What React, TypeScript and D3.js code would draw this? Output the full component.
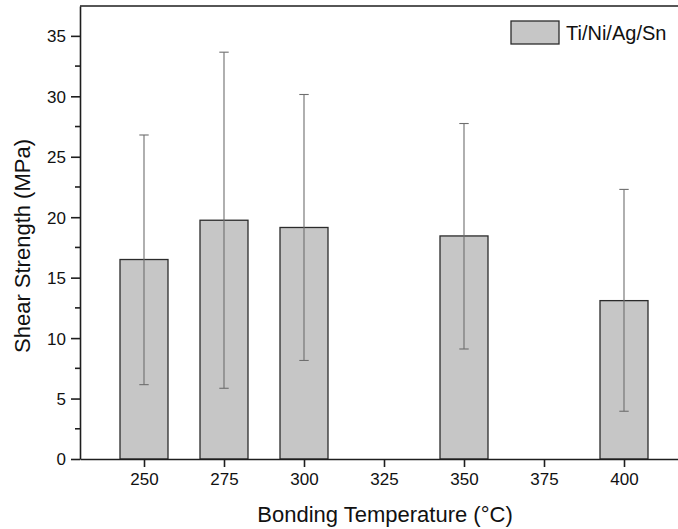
import React, { useRef, useEffect } from 'react';
import * as d3 from 'd3';

// Bonding temperature (°C) and measured shear strength (MPa)
const temps = [250, 275, 300, 350, 400];
const strength = [16.5, 19.75, 19.15, 18.45, 13.1];
const errHigh = [26.8, 33.65, 30.15, 27.75, 22.3];
const errLow = [6.15, 5.85, 8.15, 9.1, 3.95];
const xTicks = [250, 275, 300, 325, 350, 375, 400];
const yTicks = [0, 5, 10, 15, 20, 25, 30, 35];
const yMinorTicks = [2.5, 7.5, 12.5, 17.5, 22.5, 27.5, 32.5];
const seriesName = 'Ti/Ni/Ag/Sn';

const App = () => {
  const svgRef = useRef<SVGSVGElement>(null);

  useEffect(() => {
    const width = 678;
    const height = 529;
    const margin = { top: 6, left: 80, bottom: 70 };
    const font = 'Arial, "Liberation Sans", sans-serif';

    const svg = d3.select(svgRef.current)
      .attr('width', width)
      .attr('height', height)
      .style('display', 'block')
      .style('position', 'absolute')
      .style('left', '0px')
      .style('top', '0px');

    svg.selectAll('*').remove();

    const x = d3.scaleLinear().domain([230, 420]).range([margin.left, margin.left + 190 * 3.2]);
    const y = d3.scaleLinear().domain([0, 37.47]).range([height - margin.bottom, margin.top]);

    const barW = x(257.5) - x(242.5);
    const rows = temps.map((t, i) => ({ t, v: strength[i], hi: errHigh[i], lo: errLow[i] }));

    // bars
    svg.selectAll('.bar')
      .data(rows)
      .enter()
      .append('rect')
      .attr('class', 'bar')
      .attr('x', d => x(d.t) - barW / 2)
      .attr('y', d => y(d.v))
      .attr('width', barW)
      .attr('height', d => y(0) - y(d.v))
      .attr('fill', '#c6c6c6')
      .attr('stroke', '#2b2b2b')
      .attr('stroke-width', 1.3);

    // error bars
    const eb = svg.selectAll('.err')
      .data(rows)
      .enter()
      .append('g')
      .attr('class', 'err')
      .attr('stroke', '#6e6e6e')
      .attr('stroke-width', 1.1);
    eb.append('line')
      .attr('x1', d => x(d.t)).attr('x2', d => x(d.t))
      .attr('y1', d => y(d.hi)).attr('y2', d => y(d.lo));
    [(d: any) => d.hi, (d: any) => d.lo].forEach(f => {
      eb.append('line')
        .attr('x1', d => x(d.t) - 4.7).attr('x2', d => x(d.t) + 4.7)
        .attr('y1', d => y(f(d))).attr('y2', d => y(f(d)));
    });

    // frame lines
    const axisColor = '#1e1e1e';
    svg.append('line')
      .attr('x1', margin.left).attr('x2', width)
      .attr('y1', y(37.47)).attr('y2', y(37.47))
      .attr('stroke', axisColor).attr('stroke-width', 1.6);

    // X axis
    const gx = svg.append('g')
      .attr('transform', `translate(0,${y(0)})`)
      .call(d3.axisBottom(x).tickValues(xTicks).tickSize(8).tickPadding(6).tickSizeOuter(0));
    gx.select('.domain').attr('stroke', axisColor).attr('stroke-width', 1.6);
    gx.selectAll('.tick line').attr('stroke', axisColor).attr('stroke-width', 1.6);
    gx.selectAll('text')
      .attr('fill', '#111')
      .style('font-family', font)
      .style('font-size', '17px');

    // Y axis
    const gy = svg.append('g')
      .attr('transform', `translate(${margin.left},0)`)
      .call(d3.axisLeft(y).tickValues(yTicks).tickSize(9).tickPadding(5).tickSizeOuter(0));
    gy.select('.domain').attr('stroke', axisColor).attr('stroke-width', 1.6);
    gy.selectAll('.tick line').attr('stroke', axisColor).attr('stroke-width', 1.6);
    gy.selectAll('text')
      .attr('fill', '#111')
      .attr('dy', '0.35em')
      .style('font-family', font)
      .style('font-size', '17px');

    // minor ticks
    svg.append('g')
      .selectAll('line')
      .data(yMinorTicks)
      .enter()
      .append('line')
      .attr('x1', margin.left - 5).attr('x2', margin.left)
      .attr('y1', d => y(d)).attr('y2', d => y(d))
      .attr('stroke', axisColor).attr('stroke-width', 1.6);

    // axis titles
    svg.append('text')
      .attr('x', 385)
      .attr('y', 522)
      .attr('text-anchor', 'middle')
      .attr('fill', '#111')
      .style('font-family', font)
      .style('font-size', '22px')
      .text('Bonding Temperature (°C)');

    svg.append('text')
      .attr('transform', `translate(30,246) rotate(-90)`)
      .attr('text-anchor', 'middle')
      .attr('fill', '#111')
      .style('font-family', font)
      .style('font-size', '22px')
      .text('Shear Strength (MPa)');

    // legend
    const lg = svg.append('g');
    lg.append('rect')
      .attr('x', 511).attr('y', 21)
      .attr('width', 48).attr('height', 23)
      .attr('fill', '#c6c6c6')
      .attr('stroke', '#2b2b2b')
      .attr('stroke-width', 1.3);
    lg.append('text')
      .attr('x', 566).attr('y', 40)
      .attr('fill', '#111')
      .style('font-family', font)
      .style('font-size', '20px')
      .text(seriesName);
  }, []);

  return <svg ref={svgRef}></svg>;
};

export default App;
